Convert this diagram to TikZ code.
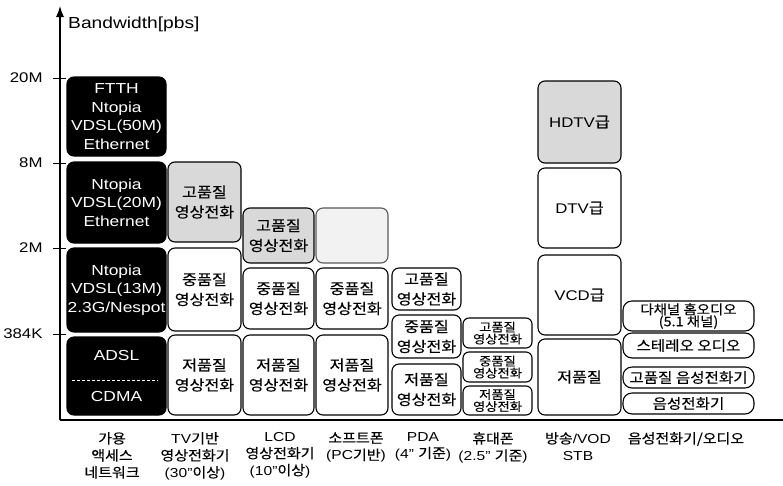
\documentclass[tikz,border=0pt]{standalone}
\usepackage{fontspec}
\setmainfont{Liberation Sans}[FakeStretch=1.2]
\newfontfamily\kr{Noto Sans CJK KR}[Scale=1.05, FakeStretch=1.1, FakeBold=0.3]
\usetikzlibrary{arrows.meta}
\tikzset{
  caja/.style={draw, line width=1.1pt, rounded corners=7pt, align=center, inner sep=0.5pt, font=\fontsize{14}{20}\selectfont\kr},
  negra/.style={caja, fill=black, text=white, font=\fontsize{14.5}{18.5}\selectfont},
  gris/.style={caja, fill=gray!30},
  chica/.style={caja, rounded corners=6pt, font=\fontsize{11.5}{12}\selectfont\kr},
  audio/.style={caja, rounded corners=9pt, font=\fontsize{13.5}{12.5}\selectfont\kr},
  etiqueta/.style={anchor=north, align=center, inner sep=0pt, font=\fontsize{13}{17}\selectfont},
  etiquetak/.style={etiqueta, font=\fontsize{13}{17}\selectfont\kr}
}
\begin{document}
\begin{tikzpicture}[x=1pt,y=-1pt]
\useasboundingbox (0,0) rectangle (783,485);
\coordinate (o) at (60,420);
\coordinate (ytop) at (60,6);
\coordinate (xfin) at (783,420);
\draw[line width=1.2pt,-{Latex[length=11pt,width=8pt]}] (o) -- (ytop); % eje y
\draw[line width=1.2pt] (o) -- (xfin); % eje x
\node[anchor=base west, inner sep=0pt, font=\fontsize{16}{16}\selectfont] (bw) at (68,28) {Bandwidth[pbs]};
\foreach \y/\t in {78/20M,163/8M,248/2M,334/384K}
\draw[line width=1pt] (66,\y) -- (53,\y)
node[anchor=east, inner sep=0pt, xshift=-10pt, font=\fontsize{14}{14}\selectfont] (m\t) {\t};
% red de acceso
\node[negra, minimum width=99, minimum height=79] (ftth) at (116.5,116.5) {FTTH\\Ntopia\\VDSL(50M)\\Ethernet};
\node[negra, minimum width=99, minimum height=81] (vdsla) at (116.5,202.5) {Ntopia\\VDSL(20M)\\Ethernet};
\node[negra, minimum width=99, minimum height=84] (vdslb) at (116.5,290) {Ntopia\\VDSL(13M)\\2.3G/Nespot};
\node[negra, minimum width=99, minimum height=78] (adsl) at (116.5,376) {ADSL\\[23pt]CDMA};
\draw[white, line width=0.8pt, dash pattern=on 3pt off 2pt] ([xshift=6pt,yshift=-4pt]adsl.west) -- ([xshift=-9pt,yshift=-4pt]adsl.east);
% TV
\node[gris, minimum width=73, minimum height=80] (tvalta) at (204.5,202) {고품질\\영상전화};
\node[caja, minimum width=73, minimum height=83] (tvmedia) at (204.5,289.5) {중품질\\영상전화};
\node[caja, minimum width=73, minimum height=80] (tvbaja) at (204.5,375) {저품질\\영상전화};
% LCD
\node[gris, minimum width=71, minimum height=55] (lcdalta) at (278.5,235.5) {고품질\\영상전화};
\node[caja, minimum width=71, minimum height=61] (lcdmedia) at (278.5,298.5) {중품질\\영상전화};
\node[caja, minimum width=71, minimum height=80] (lcdbaja) at (278.5,375) {저품질\\영상전화};
% softphone
\node[caja, draw=black!65, fill=gray!10, minimum width=72, minimum height=55] (softvacia) at (352,235.5) {};
\node[caja, minimum width=72, minimum height=61] (softmedia) at (352,298.5) {중품질\\영상전화};
\node[caja, minimum width=72, minimum height=80] (softbaja) at (352,375) {저품질\\영상전화};
% PDA
\node[caja, minimum width=69, minimum height=42] (pdaalta) at (426.5,289) {고품질\\영상전화};
\node[caja, minimum width=69, minimum height=43] (pdamedia) at (426.5,336.5) {중품질\\영상전화};
\node[caja, minimum width=69, minimum height=51] (pdabaja) at (426.5,389.5) {저품질\\영상전화};
% celular
\node[chica, minimum width=69, minimum height=30] (celalta) at (497.5,333) {고품질\\영상전화};
\node[chica, minimum width=69, minimum height=30] (celmedia) at (497.5,367) {중품질\\영상전화};
\node[chica, minimum width=69, minimum height=29] (celbaja) at (497.5,400.5) {저품질\\영상전화};
% VOD
\node[gris, font=\fontsize{14}{20}\selectfont, minimum width=83, minimum height=82] (hdtv) at (579.5,122) {HDTV{\kr 급}};
\node[caja, font=\fontsize{14}{20}\selectfont, minimum width=83, minimum height=80] (dtv) at (579.5,208) {DTV{\kr 급}};
\node[caja, font=\fontsize{14}{20}\selectfont, minimum width=83, minimum height=80] (vcd) at (579.5,295) {VCD{\kr 급}};
\node[caja, minimum width=83, minimum height=76] (stb) at (579.5,377) {저품질};
% audio
\node[audio, font=\fontsize{12.5}{12}\selectfont\kr, minimum width=131, minimum height=30] (multi) at (688.5,316) {다채널 홈오디오\\(5.1 채널)};
\node[audio, minimum width=131, minimum height=25] (estereo) at (688.5,345.5) {스테레오 오디오};
\node[audio, minimum width=131, minimum height=21] (vozalta) at (688.5,377.5) {고품질 음성전화기};
\node[audio, minimum width=131, minimum height=21] (voz) at (688.5,403.5) {음성전화기};
% etiquetas
\node[etiquetak] (l1) at (112,432) {가용\\액세스\\네트워크};
\node[etiqueta] (l2) at (195,432) {TV{\kr 기반}\\{\kr 영상전화기}\\(30"{\kr 이상})};
\node[etiqueta] (l3) at (280,432) {LCD\\{\kr 영상전화기}\\(10"{\kr 이상})};
\node[etiqueta] (l4) at (356,432) {{\kr 소프트폰}\\(PC{\kr 기반})};
\node[etiqueta] (l5) at (423,432) {PDA\\(4" {\kr 기준})};
\node[etiqueta] (l6) at (493,432) {{\kr 휴대폰}\\(2.5" {\kr 기준})};
\node[etiqueta] (l7) at (578,432) {{\kr 방송}/VOD\\STB};
\node[etiquetak] (l8) at (686,432) {음성전화기/오디오};
\end{tikzpicture}
\end{document}
